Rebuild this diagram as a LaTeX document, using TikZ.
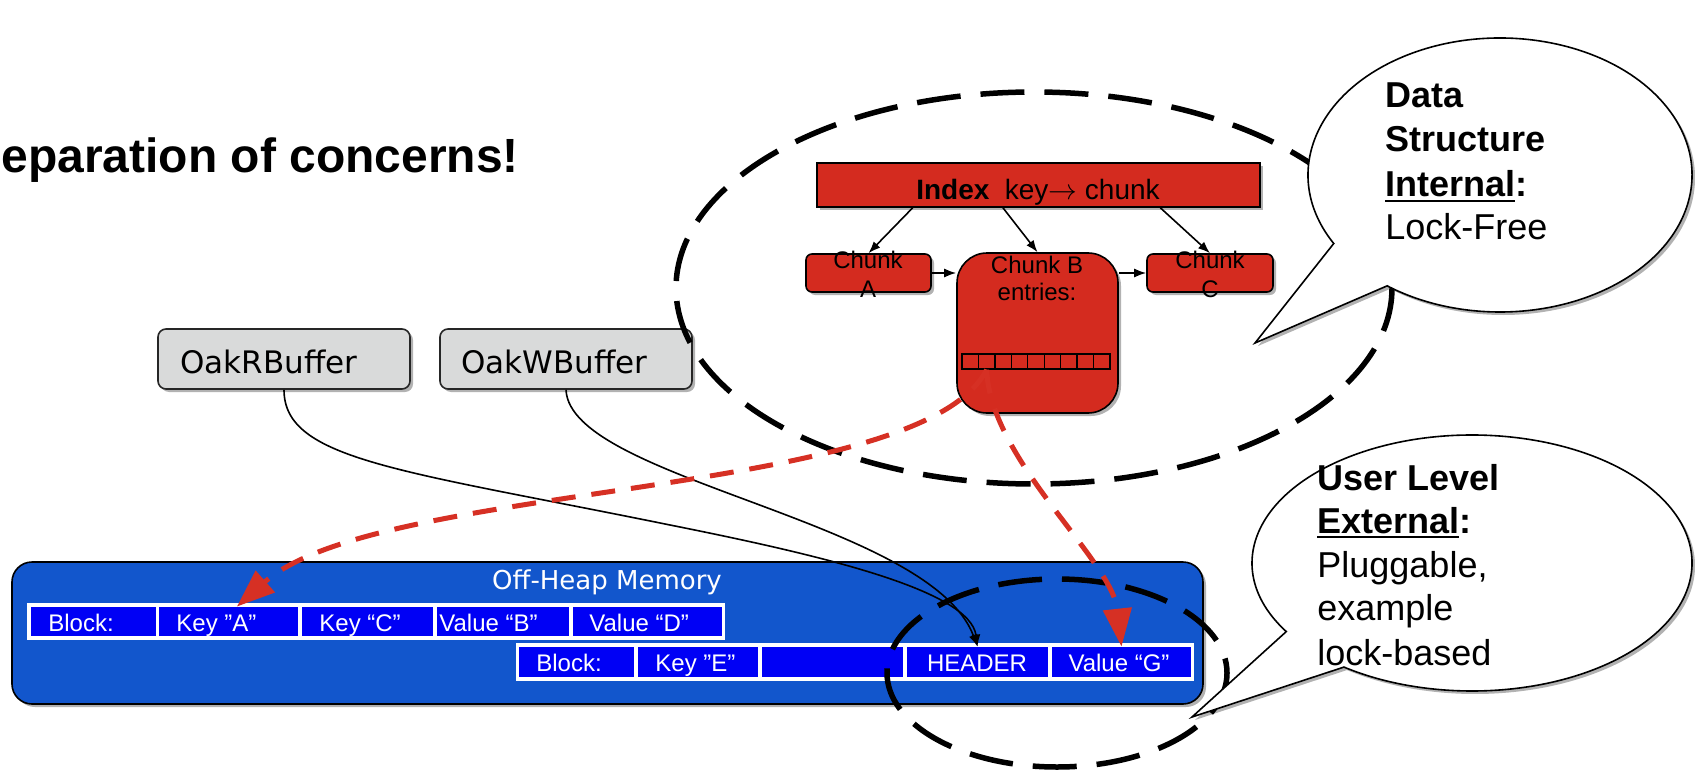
\documentclass[tikz,border=0pt]{standalone}
\usepackage{fontspec}
\setmainfont{Liberation Sans}
\newfontfamily\handfont{DejaVu Sans}
\usetikzlibrary{arrows.meta,shadows,calc}

\definecolor{chunkred}{RGB}{212,43,31}
\definecolor{linkred}{RGB}{214,48,36}
\definecolor{heapblue}{RGB}{18,86,204}
\definecolor{cellblue}{RGB}{0,0,245}
\definecolor{bufgray}{RGB}{217,218,218}

% underlined word with a heavier rule
\newcommand\thickul[1]{\setbox0\hbox{#1}\rlap{\rule[-2.6pt]{\wd0}{1.3pt}}\box0}

\begin{document}
\begin{tikzpicture}[x=0.5pt, y=-0.5pt,
  softshadow/.style={drop shadow={shadow xshift=1.5pt, shadow yshift=-1.5pt, opacity=0.3, fill=black}},
  bufbox/.style={draw=black!85, line width=0.8pt, fill=bufgray, rounded corners=4pt,
    minimum width=126pt, minimum height=30pt, inner sep=0pt, softshadow},
  buftext/.style={anchor=base west, inner sep=0pt, font=\handfont\fontsize{15.5pt}{18pt}\selectfont},
  heapbox/.style={draw=black, line width=0.8pt, fill=heapblue, rounded corners=10pt,
    minimum width=595.5pt, minimum height=71pt, inner sep=0pt, softshadow},
  cell/.style={fill=cellblue, inner sep=0pt},
  celltext/.style={text=white, inner sep=0pt, font=\fontsize{12pt}{14pt}\selectfont},
  redbox/.style={draw=black, line width=0.8pt, fill=chunkred, inner sep=0pt, softshadow},
  entry/.style={draw=black, line width=0.7pt, fill=chunkred, inner sep=0pt,
    minimum width=8.22pt, minimum height=7.5pt},
  chunktext/.style={anchor=base, inner sep=0pt, font=\fontsize{12pt}{14pt}\selectfont},
  thinarrow/.style={-{Latex[length=6pt,width=4.5pt]}, line width=0.8pt},
  pointer/.style={draw=linkred, line width=2.5pt, dash pattern=on 12pt off 8pt,
    -{Triangle[length=19pt,width=14pt]}},
  region/.style={line width=2.75pt, dash pattern=on 22pt off 10pt},
  bubble/.style={draw=black, line width=0.8pt, fill=white, softshadow},
  bubbletext/.style={anchor=base west, inner sep=0pt, font=\fontsize{18pt}{22pt}\selectfont}
]
\useasboundingbox (0,0) rectangle (1695,770);

% heading
\node[anchor=base west, inner sep=0pt, font=\bfseries\fontsize{24pt}{28pt}\selectfont]
  (title) at (1,173) {eparation of concerns!};

% buffer handles
\node[bufbox] (oakR) at (284,359) {};
\node[buftext] (oakRt) at (180,373) {OakRBuffer};
\node[bufbox] (oakW) at (566,359) {};
\node[buftext] (oakWt) at (461,373) {OakWBuffer};

% off-heap memory area
\node[heapbox] (heap) at (607.5,633) {};
\node[anchor=base, inner sep=0pt, text=white, font=\handfont\fontsize{13pt}{15pt}\selectfont]
  (heapt) at (607,589) {Off-Heap Memory};

\fill[white] (27,603) rectangle (725,640);
\fill[white] (516,643) rectangle (1194,681);

% first block
\node[cell, minimum width=62.5pt, minimum height=14.5pt] (blk1) at (93.5,621.5) {};
\node[cell, minimum width=69.5pt, minimum height=14.5pt] (kA) at (228.5,621.5) {};
\node[cell, minimum width=65.5pt, minimum height=14.5pt] (kC) at (367.5,621.5) {};
\node[cell, minimum width=66pt, minimum height=14.5pt] (vB) at (503,621.5) {};
\node[cell, minimum width=74.5pt, minimum height=14.5pt] (vD) at (647.5,621.5) {};
\node[celltext, anchor=base west] (blk1t) at (48,631) {Block:};
\node[celltext, anchor=base west] (kAt) at (176,631) {Key ”A”};
\node[celltext, anchor=base west] (kCt) at (319,631) {Key “C”};
\node[celltext, anchor=base west] (vBt) at (439,631) {Value “B”};
\node[celltext, anchor=base west] (vDt) at (589,631) {Value “D”};

% second block
\node[cell, minimum width=57.5pt, minimum height=15pt] (blk2) at (576.5,662) {};
\node[cell, minimum width=60pt, minimum height=15pt] (kE) at (698,662) {};
\node[cell, minimum width=70.5pt, minimum height=15pt] (emp) at (832.5,662) {};
\node[cell, minimum width=70.5pt, minimum height=15pt] (hdr) at (977.5,662) {};
\node[cell, minimum width=69.5pt, minimum height=15pt] (vG) at (1121.5,662) {};
\node[celltext, anchor=base west] (blk2t) at (536,671) {Block:};
\node[celltext, anchor=base west] (kEt) at (655,671) {Key ”E”};
\node[celltext, anchor=base] (hdrt) at (977,671) {HEADER};
\node[celltext, anchor=base] (vGt) at (1119,671) {Value “G”};

% buffers refer to the block header
\draw[thinarrow] (oakR.south) .. controls (284,460) and (400,470) .. (670,525)
  .. controls (820,555) and (970,590) .. (hdr.north);
\draw[thinarrow] (oakW.south) .. controls (570,480) and (930,520) .. (hdr.north);

% index and chunks
\node[redbox, minimum width=221.5pt, minimum height=22pt] (idx) at (1038.5,185) {};
\node[anchor=base, inner sep=0pt, font=\fontsize{14pt}{16pt}\selectfont]
  (idxt) at (1038,199) {\textbf{Index}\hspace{0.55em}key$\rightarrow$ chunk};
\node[redbox, rounded corners=3pt, minimum width=62.5pt, minimum height=19pt] (cA) at (868.5,273) {};
\node[redbox, rounded corners=15pt, minimum width=80.5pt, minimum height=80pt] (cB) at (1037.5,333) {};
\node[redbox, rounded corners=3pt, minimum width=63pt, minimum height=19pt] (cC) at (1210,273) {};
\foreach \i in {1,...,9} {
  \node[entry] (e\i) at ({962+16.44*(\i-0.5)},361.5) {};
}
\node[chunktext] (cAt1) at (868,268) {Chunk};
\node[chunktext] (cAt2) at (868,297) {A};
\node[chunktext] (cBt1) at (1037,273) {Chunk B};
\node[chunktext] (cBt2) at (1037,300) {entries:};
\node[chunktext] (cCt1) at (1210,268) {Chunk};
\node[chunktext] (cCt2) at (1210,297) {C};

\draw[thinarrow] ($(idx.south west)!0.217!(idx.south east)$) -- (cA.north);
\draw[thinarrow] ($(idx.south west)!0.42!(idx.south east)$) -- (cB.north);
\draw[thinarrow] ($(idx.south west)!0.774!(idx.south east)$) -- (cC.north);
\draw[thinarrow] (cA.east) -- (cA.east -| cB.west);
\draw[thinarrow] (cC.west -| cB.east) -- (cC.west);

% regions
\draw[region] (1034,288) ellipse [x radius=358, y radius=196];
\draw[region] (1057,673) ellipse [x radius=170, y radius=94];

% entry references into off-heap memory
\draw[pointer] (e2.south) .. controls (920,500) and (380,480) .. ($(kA.north west)!0.56!(kA.north east)$);
\draw[pointer] (e2.south) .. controls (990,460) and (1112,560) .. (vG.north);

% callouts
\draw[bubble] ([shift={(150:192 and 137)}]1500,175)
  arc[start angle=150, end angle=486, x radius=192, y radius=137] -- (1255,343) -- cycle;
\node[bubbletext] (b1a) at (1385,108) {\textbf{Data}};
\node[bubbletext] (b1b) at (1385,152) {\textbf{Structure}};
\node[bubbletext] (b1c) at (1385,197) {\textbf{\thickul{Internal}:}};
\node[bubbletext] (b1d) at (1385,240) {Lock-Free};

\draw[bubble] ([shift={(147.6:220 and 128)}]1472,563)
  arc[start angle=147.6, end angle=485.6, x radius=220, y radius=128] -- (1192,717) -- cycle;
\node[bubbletext] (b2a) at (1317,490) {\textbf{User Level}};
\node[bubbletext] (b2b) at (1317,533) {\textbf{\thickul{External}:}};
\node[bubbletext] (b2c) at (1317,577) {Pluggable,};
\node[bubbletext] (b2d) at (1317,620) {example};
\node[bubbletext] (b2e) at (1317,665) {lock-based};
\end{tikzpicture}
\end{document}
